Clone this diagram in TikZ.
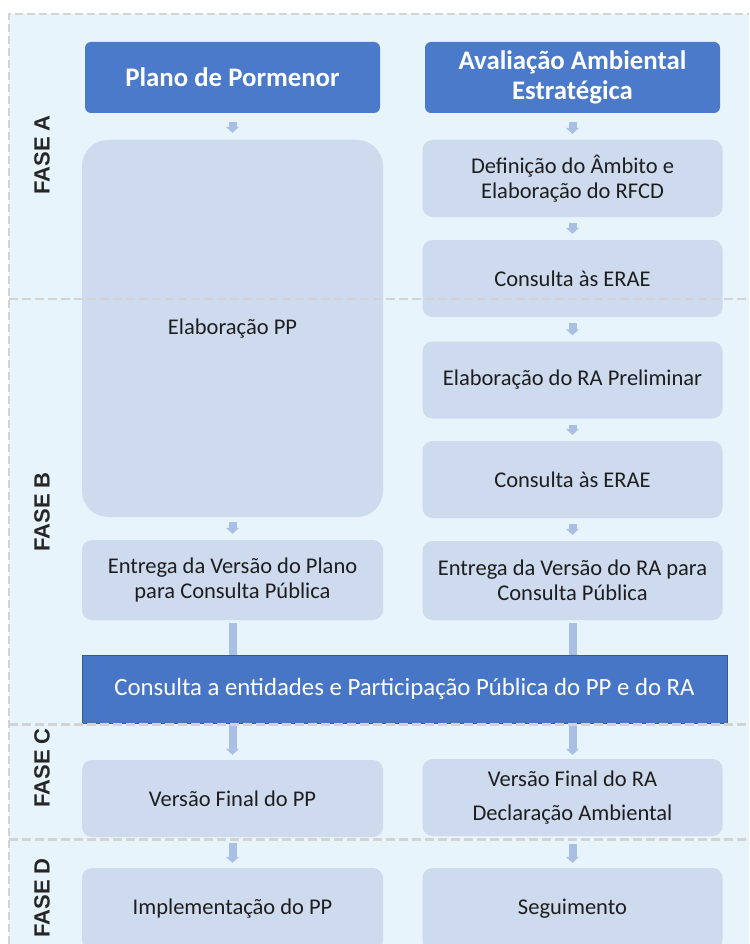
\documentclass[tikz,border=0pt]{standalone}
\usepackage{fontspec}
\setmainfont{Carlito}
\newfontfamily\phasefont{Liberation Sans}
\usetikzlibrary{arrows.meta}
\definecolor{bgblue}{HTML}{E8F4FB}
\definecolor{boxfill}{HTML}{CEDBEF}
\definecolor{hdrblue}{HTML}{4A7AC9}
\definecolor{barblue}{HTML}{4876C6}
\definecolor{arrowblue}{HTML}{A9BFE3}
\definecolor{dashgray}{HTML}{D3D3D3}
\definecolor{txt}{HTML}{1E1E1E}
\begin{document}
\begin{tikzpicture}[x=1pt,y=-1pt,
  stepbox/.style={fill=boxfill, rounded corners=10pt, text=txt, align=center,
    font=\fontsize{22.5}{25}\selectfont, inner sep=0pt},
  header/.style={fill=hdrblue, rounded corners=6pt, text=white, align=center,
    font=\bfseries\fontsize{26.8}{30}\selectfont, inner sep=0pt},
  phase/.style={rotate=90, font=\phasefont\bfseries\fontsize{22}{26}\selectfont, text=black!85},
  flow/.style={draw=arrowblue, line width=8pt, -{Triangle[width=13pt,length=6pt]},
    shorten <=6pt, shorten >=6pt},
  divider/.style={draw=dashgray, line width=2.5pt, dash pattern=on 9pt off 4pt},
]
\useasboundingbox (0,0) rectangle (749,944);
\fill[bgblue] (9,14) rectangle (749,944);
\draw[dashgray, line width=1.8pt, dash pattern=on 8pt off 4pt] (9,944) -- (9,14) -- (749,14);

% headers
\node[header, minimum width=295pt, minimum height=71pt] (pp) at (232.5,77.5) {Plano de Pormenor};
\node[header, minimum width=295pt, minimum height=71pt] (aae) at (572.5,77.5) {Avaliação Ambiental\\Estratégica};

% left column
\node[stepbox, rounded corners=26pt, minimum width=301pt, minimum height=377pt] (elab) at (232.5,328.5) {Elaboração PP};
\node[stepbox, minimum width=301pt, minimum height=80pt] (entL) at (232.5,580) {Entrega da Versão do Plano\\para Consulta Pública};
\node[stepbox, minimum width=301pt, minimum height=77pt] (finL) at (232.5,798.5) {Versão Final do PP};
\node[stepbox, minimum width=301pt, minimum height=82pt] (impL) at (232.5,909) {Implementação do PP};

% right column
\node[stepbox, minimum width=300pt, minimum height=77pt] (r1) at (572.5,178.5) {Definição do Âmbito e\\Elaboração do RFCD};
\node[stepbox, minimum width=300pt, minimum height=77pt] (r2) at (572.5,278.5) {Consulta às ERAE};
\node[stepbox, minimum width=300pt, minimum height=77pt] (r3) at (572.5,380) {Elaboração do RA Preliminar};
\node[stepbox, minimum width=300pt, minimum height=77pt] (r4) at (572.5,479.5) {Consulta às ERAE};
\node[stepbox, minimum width=300pt, minimum height=79pt] (entR) at (572.5,580.5) {Entrega da Versão do RA para\\Consulta Pública};
\node[stepbox, minimum width=300pt, minimum height=77pt, font=\fontsize{22.5}{34}\selectfont] (finR) at (572.5,797.5) {Versão Final do RA\\Declaração Ambiental};
\node[stepbox, minimum width=300pt, minimum height=82pt] (seg) at (572.5,909) {Seguimento};

% arrows
\draw[flow, shorten <=9pt, shorten >=7pt] (pp) -- (elab);
\draw[flow, shorten <=9pt, shorten >=6pt] (aae) -- (r1);
\draw[flow] (r1) -- (r2);
\draw[flow] (r2) -- (r3);
\draw[flow] (r3) -- (r4);
\draw[flow] (r4) -- (entR);
\draw[flow, shorten <=5pt] (elab) -- (entL);
\draw[flow, shorten <=3pt, shorten >=5pt] (entL) -- (finL);
\draw[flow, shorten <=3pt, shorten >=4pt] (entR) -- (finR);
\draw[flow, shorten >=5pt] (finL) -- (impL);
\draw[flow, shorten <=8pt, shorten >=5pt] (finR) -- (seg);

% consultation bar
\node[fill=barblue, draw=barblue!75!black, line width=0.8pt, text=white, inner sep=0pt,
  minimum width=645pt, minimum height=68pt, font=\fontsize{24.8}{28}\selectfont] (bar) at (404.5,689)
  {Consulta a entidades e Participação Pública do PP e do RA};

% phase dividers
\draw[divider] (9,299) -- (749,299);
\draw[divider] (9,724.5) -- (749,724.5);
\draw[divider] (9,839.5) -- (749,839.5);

% phase labels
\node[phase] (fa) at (42,155) {FASE A};
\node[phase] (fb) at (42,512) {FASE B};
\node[phase] (fc) at (42,768) {FASE C};
\node[phase] (fd) at (42,898) {FASE D};
\end{tikzpicture}
\end{document}
